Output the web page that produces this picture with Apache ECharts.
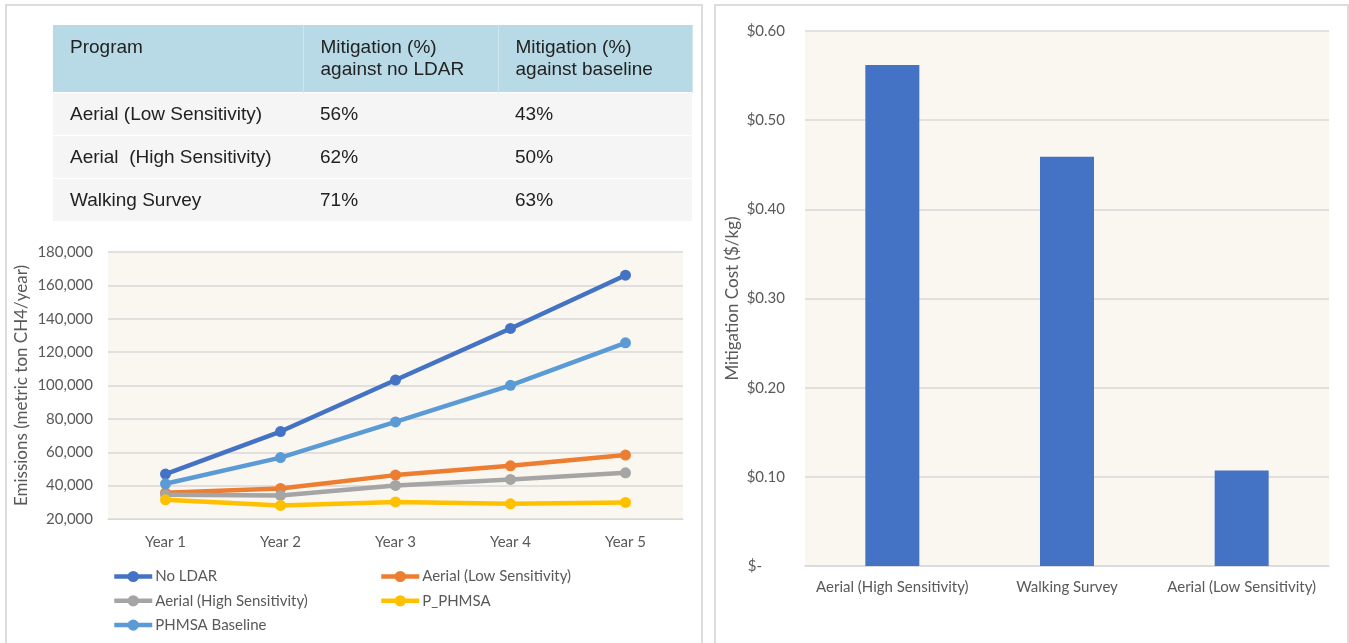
<!DOCTYPE html>
<html>
<head>
<meta charset="utf-8">
<script src="https://cdn.jsdelivr.net/npm/echarts@6/dist/echarts.min.js"></script>
<style>
  html, body { margin: 0; padding: 0; background: #fff; }
  #wrap { position: relative; width: 1349px; height: 643px; overflow: hidden; }
  #chart { position: absolute; left: 0; top: 0; width: 1349px; height: 643px; }
  .panel { position: absolute; border: 2px solid #dcdcdc; box-sizing: border-box; pointer-events: none; }
  #tbl { position: absolute; left: 53px; top: 25px; width: 639px; border-collapse: collapse; table-layout: fixed;
         font-family: "Liberation Sans", Arial, sans-serif; font-size: 19px; color: #222; z-index: 2; }
  #tbl td, #tbl th { padding: 0 0 0 17px; text-align: left; font-weight: normal; line-height: 22px; }
  #tbl th { background: #b8dae6; height: 67px; border-right: 1px solid #cfe6ee; vertical-align: top; padding-top: 11px; box-sizing: border-box; }
  #tbl td { background: #f5f5f5; height: 42px; border-top: 1px solid #ffffff; vertical-align: middle; }
</style>
</head>
<body>
<div id="wrap">
  <div id="chart"></div>
  <div class="panel" style="left:5px;top:4px;width:698px;height:700px;"></div>
  <div class="panel" style="left:714px;top:4px;width:635px;height:700px;"></div>
  <table id="tbl"></table>
</div>
<script>
// ---- Table data ----
const tableHeader = ["Program", "Mitigation (%)<br>against no LDAR", "Mitigation (%)<br>against baseline"];
const tablePrograms = ["Aerial (Low Sensitivity)", "Aerial&nbsp; (High Sensitivity)", "Walking Survey"];
const tableVsNoLdar = ["56%", "62%", "71%"];
const tableVsBaseline = ["43%", "50%", "63%"];

// ---- Line chart data ----
const years = ["Year 1", "Year 2", "Year 3", "Year 4", "Year 5"];
const noLdar = [46900, 72400, 103300, 134200, 166100];
const aerialLow = [35700, 38300, 46300, 51900, 58300];
const aerialHigh = [34500, 34100, 40100, 43700, 47700];
const pPhmsa = [31500, 28100, 30200, 29100, 29900];
const phmsaBaseline = [41100, 56800, 78200, 100100, 125600];

// ---- Bar chart data ----
const barCategories = ["Aerial (High Sensitivity)", "Walking Survey", "Aerial (Low Sensitivity)"];
const barValues = [0.562, 0.459, 0.107];

// build table
const tbl = document.getElementById('tbl');
let html = '<colgroup><col style="width:250px"><col style="width:195px"><col style="width:194px"></colgroup>';
html += '<tr>' + tableHeader.map(h => '<th>' + h + '</th>').join('') + '</tr>';
for (let i = 0; i < tablePrograms.length; i++) {
  html += '<tr><td>' + tablePrograms[i] + '</td><td>' + tableVsNoLdar[i] + '</td><td>' + tableVsBaseline[i] + '</td></tr>';
}
tbl.innerHTML = html;

const FONT = 'Lato';
const TXT = '#595959';
const GRIDC = '#d9d9d9';
const BG = '#faf6f0';

const colors = {
  'No LDAR': '#4472C4',
  'Aerial (Low Sensitivity)': '#ED7D31',
  'Aerial (High Sensitivity)': '#A5A5A5',
  'P_PHMSA': '#FFC000',
  'PHMSA Baseline': '#5B9BD5'
};
const lineSeriesData = [
  ['No LDAR', noLdar],
  ['Aerial (Low Sensitivity)', aerialLow],
  ['Aerial (High Sensitivity)', aerialHigh],
  ['P_PHMSA', pPhmsa],
  ['PHMSA Baseline', phmsaBaseline]
];

const chart = echarts.init(document.getElementById('chart'), null, { renderer: 'canvas' });
const legendCommon = {
  orient: 'vertical', itemWidth: 38, itemHeight: 14, itemGap: 9.3,
  lineStyle: { width: 4.5 },
  textStyle: { fontFamily: FONT, fontSize: 15, color: TXT, padding: [0, 0, 0, -2] },
  selectedMode: false
};
chart.setOption({
  animation: false,
  textStyle: { fontFamily: FONT },
  grid: [
    { left: 108, top: 252, width: 575, height: 267, show: true, backgroundColor: BG, borderWidth: 0 },
    { left: 805, top: 31, width: 524, height: 535, show: true, backgroundColor: BG, borderWidth: 0 }
  ],
  legend: [
    Object.assign({}, legendCommon, { left: 107, top: 564, data: ['No LDAR', 'Aerial (High Sensitivity)', 'PHMSA Baseline'] }),
    Object.assign({}, legendCommon, { left: 374, top: 564, data: ['Aerial (Low Sensitivity)', 'P_PHMSA'] })
  ],
  xAxis: [
    { type: 'category', gridIndex: 0, data: years, boundaryGap: true,
      axisLine: { lineStyle: { color: GRIDC, width: 1 } }, axisTick: { show: false },
      axisLabel: { color: TXT, fontSize: 15, fontFamily: FONT, margin: 16, interval: 0 } },
    { type: 'category', gridIndex: 1, data: barCategories,
      axisLine: { lineStyle: { color: GRIDC, width: 1.5 } }, axisTick: { show: false },
      axisLabel: { color: TXT, fontSize: 15, fontFamily: FONT, margin: 14, interval: 0 } }
  ],
  yAxis: [
    { type: 'value', gridIndex: 0, min: 20000, max: 180000, interval: 20000,
      name: 'Emissions (metric ton CH4/year)', nameLocation: 'middle', nameRotate: 90, nameGap: 78,
      nameTextStyle: { color: TXT, fontSize: 17, fontFamily: FONT },
      axisLine: { show: false }, axisTick: { show: false },
      splitLine: { lineStyle: { color: GRIDC, width: 1.5 } },
      axisLabel: { color: TXT, fontSize: 15, fontFamily: FONT, margin: 15,
        formatter: v => v.toLocaleString('en-US') } },
    { type: 'value', gridIndex: 1, min: 0, max: 0.6, interval: 0.1,
      name: 'Mitigation Cost ($/kg)', nameLocation: 'middle', nameRotate: 90, nameGap: 64,
      nameTextStyle: { color: TXT, fontSize: 17, fontFamily: FONT },
      axisLine: { show: false }, axisTick: { show: false },
      splitLine: { lineStyle: { color: GRIDC, width: 1.5 } },
      axisLabel: { color: TXT, fontSize: 15, fontFamily: FONT, margin: 20,
        formatter: v => v === 0 ? '$-      ' : '$' + v.toFixed(2) } }
  ],
  series: lineSeriesData.map(([name, data]) => ({
    name, type: 'line', xAxisIndex: 0, yAxisIndex: 0, data,
    symbol: 'circle', symbolSize: 11,
    lineStyle: { width: 4.5, color: colors[name] },
    itemStyle: { color: colors[name] }
  })).concat([{
    name: 'Mitigation Cost', type: 'bar', xAxisIndex: 1, yAxisIndex: 1, data: barValues,
    barWidth: 54, itemStyle: { color: '#4472C4' }
  }])
});
</script>
</body>
</html>
